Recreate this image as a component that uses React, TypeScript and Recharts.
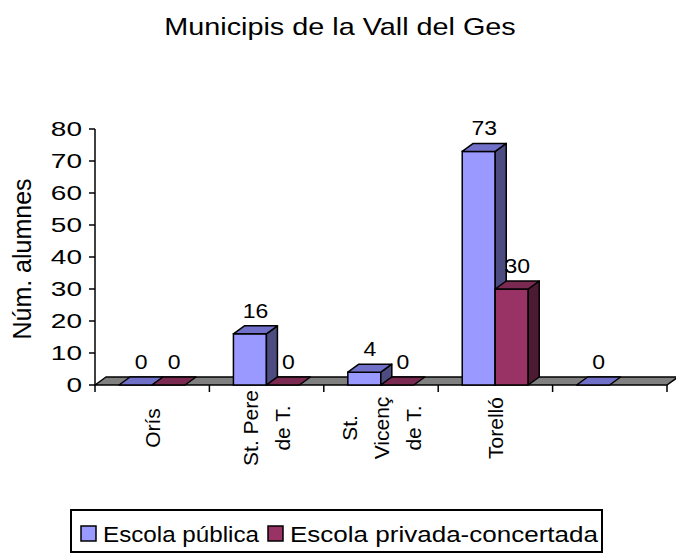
import React from 'react';
import { BarChart, Bar, XAxis, YAxis, Legend, LabelList, ReferenceArea } from 'recharts';

const chartTitle = 'Municipis de la Vall del Ges';
const yAxisTitle = 'Núm. alumnes';
const categories = ['Orís', 'St. Pere de T.', 'St. Vicenç de T.', 'Torelló', ' '];
const categoryLines = [['Orís'], ['St. Pere', 'de T.'], ['St.', 'Vicenç', 'de T.'], ['Torelló'], []];
const escolaPublica: (number | null)[] = [0, 16, 4, 73, 0];
const escolaPrivada: (number | null)[] = [0, 0, 0, 30, null];
const yTicks = [0, 10, 20, 30, 40, 50, 60, 70, 80];
const seriesNames = ['Escola pública', 'Escola privada-concertada'];

const data = categories.map((name, i) => ({
  name,
  pub: escolaPublica[i],
  priv: escolaPrivada[i],
}));

const FONT = '"Liberation Sans", Arial, sans-serif';
const DX = 11;
const DY = 8;

const COLORS = {
  pub: { front: '#9999ff', top: '#7070c8', side: '#4c4c80' },
  priv: { front: '#993366', top: '#7a2950', side: '#4d1a33' },
};

const make3DBar = (key: 'pub' | 'priv') => (props: any) => {
  const { x, y, width, height, payload } = props;
  if (payload == null || payload[key] == null) return null;
  const c = COLORS[key];
  const w = width;
  const h = Math.max(0, height);
  return (
    <g>
      {h > 0 && (
        <rect x={x} y={y} width={w} height={h} fill={c.front} stroke="#000" strokeWidth={1.5} />
      )}
      {h > 0 && (
        <polygon
          points={`${x + w},${y} ${x + w + DX},${y - DY} ${x + w + DX},${y + h - DY} ${x + w},${y + h}`}
          fill={c.side}
          stroke="#000"
          strokeWidth={1.5}
          strokeLinejoin="round"
        />
      )}
      <polygon
        points={`${x},${y} ${x + DX},${y - DY} ${x + w + DX},${y - DY} ${x + w},${y}`}
        fill={c.top}
        stroke="#000"
        strokeWidth={1.5}
        strokeLinejoin="round"
      />
    </g>
  );
};

const Floor = (props: any) => {
  const { x, y, width, height } = props;
  const b = y + height;
  return (
    <polygon
      points={`${x},${b} ${x + width},${b} ${x + width + DX},${b - DY} ${x + DX},${b - DY}`}
      fill="#808080"
      stroke="#000"
      strokeWidth={1.5}
      strokeLinejoin="round"
    />
  );
};

const makeValueLabel = (key: 'pub' | 'priv') => (props: any) => {
  const { x, y, width, value, index } = props;
  const v = key === 'pub' ? escolaPublica[index] : escolaPrivada[index];
  if (v == null || value == null) return null;
  const cx = x + width / 2 + DX / 2;
  const by = y - DY - 8;
  return (
    <g transform={`translate(${cx},${by}) scale(1.15,1)`}>
      <text x={0} y={0} textAnchor="middle" fontSize={20} fontFamily={FONT} fill="#000">
        {v}
      </text>
    </g>
  );
};

const YTick = (props: any) => {
  const { x, y, payload } = props;
  return (
    <g transform={`translate(${x},${y}) scale(1.4,1)`}>
      <text x={0} y={0} dy="0.36em" textAnchor="end" fontSize={20} fontFamily={FONT} fill="#000">
        {payload.value}
      </text>
    </g>
  );
};

const XTick = (props: any) => {
  const { x, y, payload, index, visibleTicksCount } = props;
  const half = payload.offset || 0;
  const lines = categoryLines[index] || [];
  const n = lines.length;
  const spacing = 32;
  return (
    <g>
      <line x1={x - half} x2={x - half} y1={y} y2={y + 7} stroke="#000" strokeWidth={1.5} />
      {index === visibleTicksCount - 1 && (
        <line x1={x + half} x2={x + half} y1={y} y2={y + 7} stroke="#000" strokeWidth={1.5} />
      )}
      {lines.map((l, i) => (
        <text
          key={i}
          transform={`translate(${x + (i - (n - 1) / 2) * spacing},${y + 43}) rotate(-90)`}
          textAnchor="middle"
          dy="0.36em"
          fontSize={21}
          fontFamily={FONT}
          fill="#000"
        >
          {l}
        </text>
      ))}
    </g>
  );
};

const YLabel = (props: any) => {
  const vb = props.viewBox || {};
  const cx = (vb.x || 0) + 22;
  const cy = (vb.y || 0) + (vb.height || 0) / 2 + 2;
  return (
    <text
      transform={`translate(${cx},${cy}) rotate(-90)`}
      textAnchor="middle"
      dy="0.36em"
      fontSize={25}
      fontFamily={FONT}
      fill="#000"
    >
      {yAxisTitle}
    </text>
  );
};

const legendSwatch = [COLORS.pub.front, COLORS.priv.front];
const legendItemX = [10, 197];
const legendTextWidth = [156, 308];

const LegendBox = () => (
  <svg width={533} height={44} style={{ display: 'block' }}>
    <rect x={1} y={1} width={531} height={42} fill="#fff" stroke="#000" strokeWidth={2} />
    {seriesNames.map((name, i) => (
      <g key={name}>
        <rect
          x={legendItemX[i] + 1}
          y={17}
          width={15}
          height={15}
          fill={legendSwatch[i]}
          stroke="#000"
          strokeWidth={1.5}
        />
        <text
          x={legendItemX[i] + 23}
          y={33}
          fontSize={22}
          fontFamily={FONT}
          fill="#000"
          textLength={legendTextWidth[i]}
          lengthAdjust="spacingAndGlyphs"
        >
          {name}
        </text>
      </g>
    ))}
  </svg>
);

export default function App() {
  return (
    <div style={{ position: 'absolute', left: 0, top: 0, width: 676, height: 555, background: '#fff' }}>
      <svg width={676} height={50} style={{ position: 'absolute', left: 0, top: 0 }}>
        <g transform="translate(340,35) scale(1.2,1)">
          <text x={0} y={0} textAnchor="middle" fontSize={24} fontFamily={FONT} fill="#000">
            {chartTitle}
          </text>
        </g>
      </svg>
      <BarChart
        width={676}
        height={555}
        data={data}
        margin={{ top: 129, right: 9, left: 0, bottom: 2 }}
        barCategoryGap="21%"
        barGap={0}
        style={{ position: 'absolute', left: 0, top: 0 }}
      >
        <ReferenceArea y1={0} y2={80} shape={Floor} ifOverflow="visible" isFront={false} />
        <YAxis
          width={95}
          domain={[0, 80]}
          ticks={yTicks}
          interval={0}
          tick={YTick}
          tickSize={6}
          tickMargin={7}
          axisLine={{ stroke: '#000', strokeWidth: 1.5 }}
          tickLine={{ stroke: '#000', strokeWidth: 1.5 }}
          label={<YLabel />}
        />
        <XAxis
          dataKey="name"
          height={124}
          interval={0}
          tick={XTick}
          tickSize={0}
          tickMargin={0}
          tickLine={false}
          axisLine={false}
        />
        <Bar dataKey="pub" name={seriesNames[0]} fill={COLORS.pub.front} shape={make3DBar('pub')} isAnimationActive={false}>
          <LabelList dataKey="pub" content={makeValueLabel('pub')} />
        </Bar>
        <Bar dataKey="priv" name={seriesNames[1]} fill={COLORS.priv.front} shape={make3DBar('priv')} isAnimationActive={false}>
          <LabelList dataKey="priv" content={makeValueLabel('priv')} />
        </Bar>
        <Legend
          verticalAlign="bottom"
          width={533}
          height={44}
          wrapperStyle={{ left: 70, bottom: 2 }}
          content={LegendBox}
        />
      </BarChart>
    </div>
  );
}
